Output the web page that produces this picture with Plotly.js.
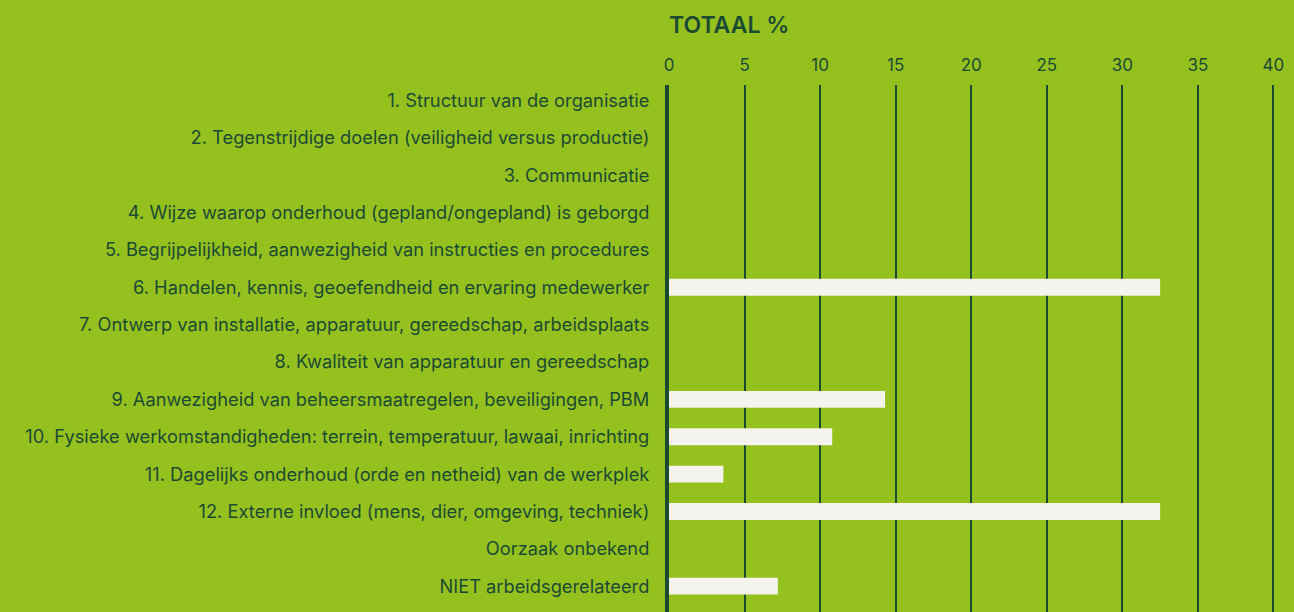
<!DOCTYPE html>
<html><head><meta charset="utf-8">
<script src="https://cdn.plot.ly/plotly-3.0.1.min.js"></script>
<style>html,body{margin:0;padding:0;background:#95c11f;}</style>
</head><body>
<div id="chart" style="width:1294px;height:612px;"></div>
<script>
const categories = [
  "1. Structuur van de organisatie",
  "2. Tegenstrijdige doelen (veiligheid versus productie)",
  "3. Communicatie",
  "4. Wijze waarop onderhoud (gepland/ongepland) is geborgd",
  "5. Begrijpelijkheid, aanwezigheid van instructies en procedures",
  "6. Handelen, kennis, geoefendheid en ervaring medewerker",
  "7. Ontwerp van installatie, apparatuur, gereedschap, arbeidsplaats",
  "8. Kwaliteit van apparatuur en gereedschap",
  "9. Aanwezigheid van beheersmaatregelen, beveiligingen, PBM",
  "10. Fysieke werkomstandigheden: terrein, temperatuur, lawaai, inrichting",
  "11. Dagelijks onderhoud (orde en netheid) van de werkplek",
  "12. Externe invloed (mens, dier, omgeving, techniek)",
  "Oorzaak onbekend",
  "NIET arbeidsgerelateerd"
];
const totaal = [0, 0, 0, 0, 0, 32.5, 0, 0, 14.3, 10.8, 3.6, 32.5, 0, 7.2];
const xTicks = [0, 5, 10, 15, 20, 25, 30, 35, 40];
const titleText = "TOTAAL %";

const dark = "#1b4a33";
const bg = "#95c11f";

const trace = {
  type: "bar",
  orientation: "h",
  x: totaal,
  y: categories,
  width: 0.45,
  marker: {color: "#f5f3ee", line: {width: 0}},
  hoverinfo: "x+y"
};

const layout = {
  width: 1294, height: 612,
  paper_bgcolor: bg, plot_bgcolor: bg,
  margin: {l: 669, r: 13, t: 85, b: 0},
  showlegend: false,
  font: {family: "Inter, 'Noto Sans', sans-serif", color: dark, size: 18},
  title: {
    text: titleText,
    font: {family: "Inter, sans-serif", size: 23, color: dark, weight: 600},
    xref: "paper", x: 0, xanchor: "left",
    yref: "container", y: 1 - 25/612, yanchor: "middle"
  },
  xaxis: {
    side: "top",
    range: [0, 40.5],
    tickvals: xTicks,
    ticktext: xTicks.map(String),
    showgrid: true, gridcolor: dark, gridwidth: 2,
    zeroline: false,
    ticks: "", ticklabelstandoff: 10,
    tickfont: {size: 17, color: dark},
    showline: false,
    fixedrange: true
  },
  yaxis: {
    type: "category",
    range: [13.69, -0.412],
    showgrid: false, zeroline: false,
    showline: true, linecolor: dark, linewidth: 4, layer: "above traces",
    ticks: "", ticklabelstandoff: 12,
    tickfont: {size: 18.3, color: dark},
    fixedrange: true
  }
};

Plotly.newPlot("chart", [trace], layout, {displayModeBar: false, staticPlot: true});
</script>
</body></html>
